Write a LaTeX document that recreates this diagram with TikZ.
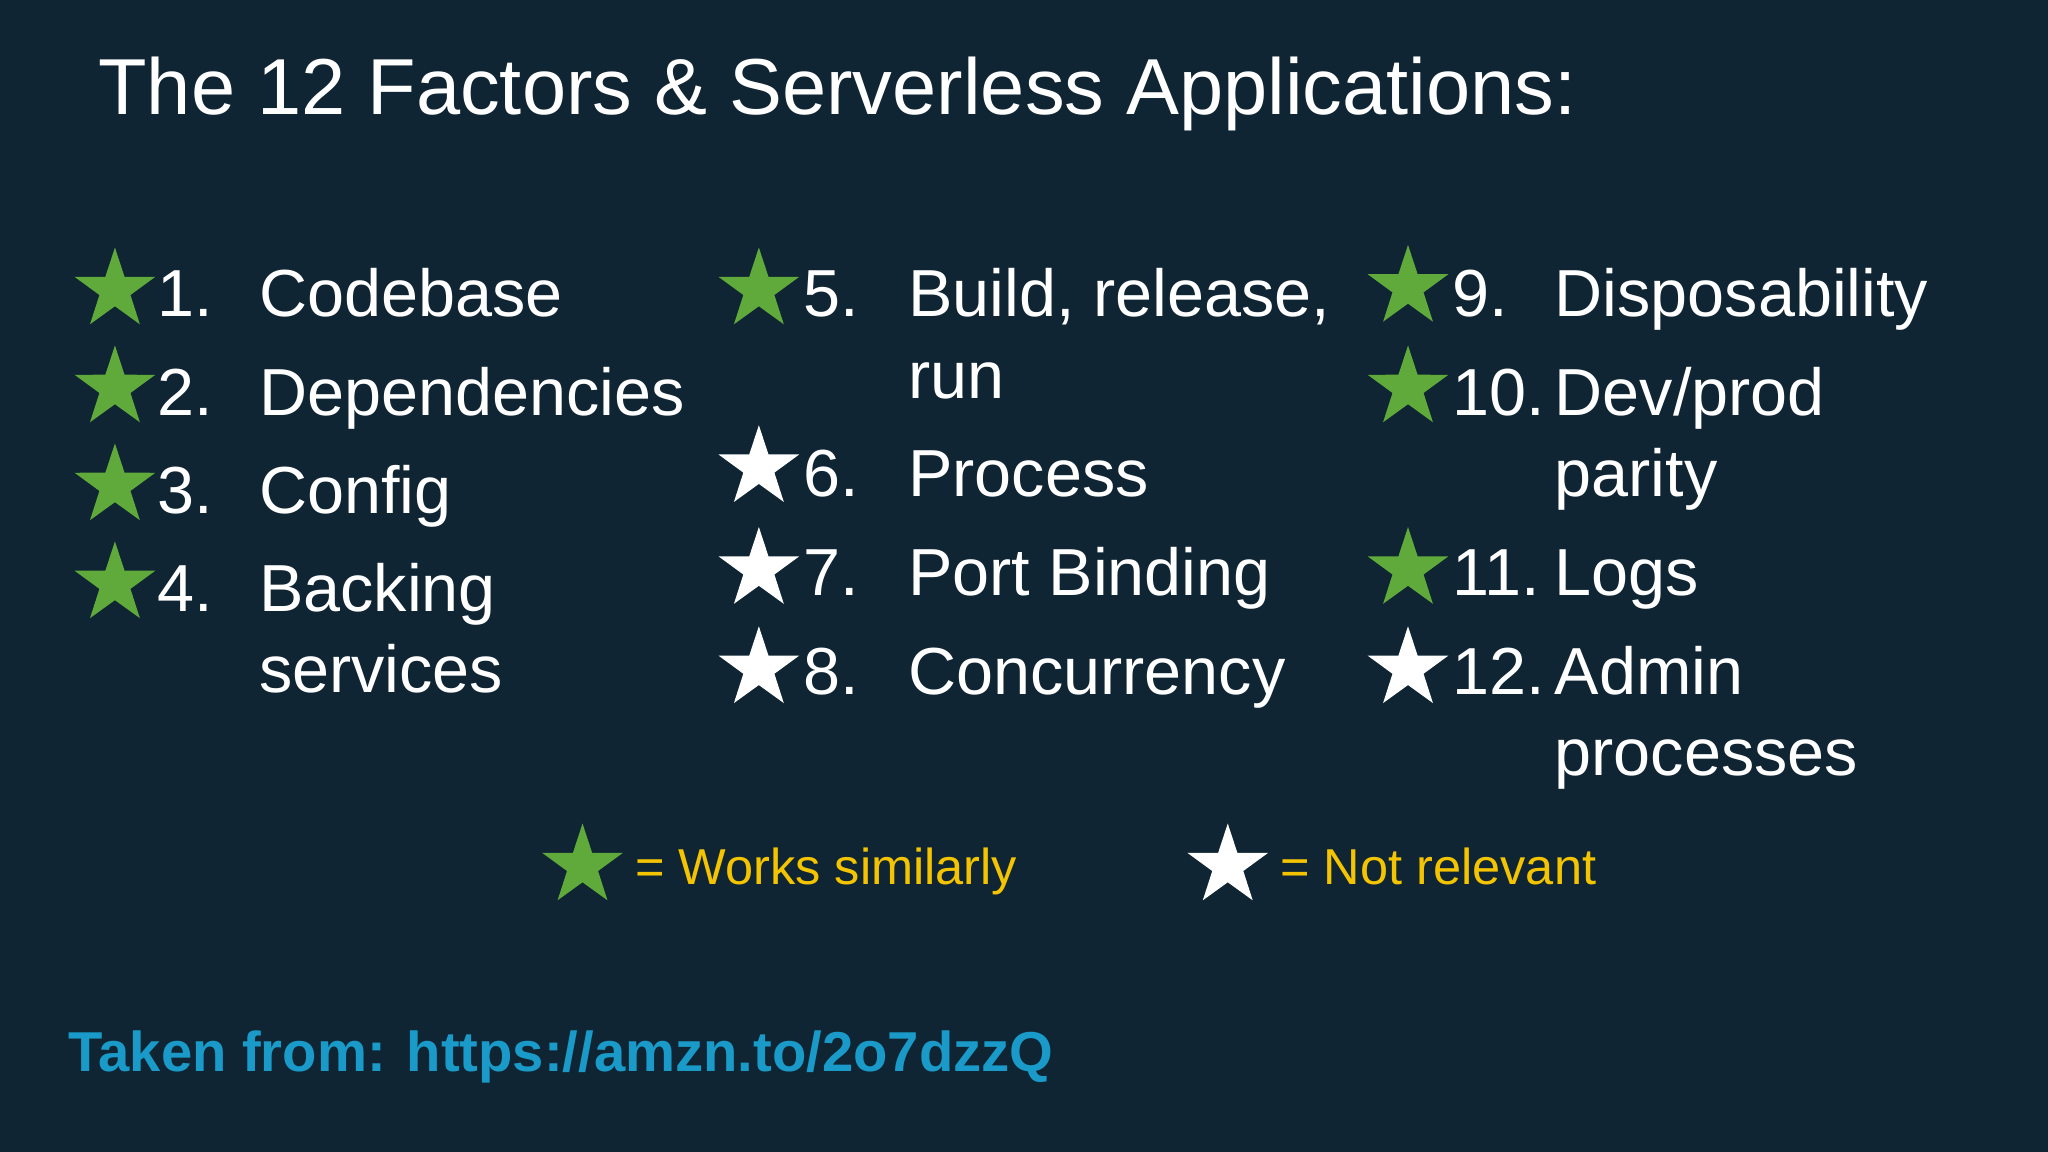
\documentclass[tikz,border=0pt]{standalone}
\usepackage{fontspec}
\setmainfont{Liberation Sans}
\usetikzlibrary{shapes.geometric}
\definecolor{bg}{HTML}{0F2533}
\definecolor{sgreen}{HTML}{5FAA3A}
\definecolor{syellow}{HTML}{F5C400}
\definecolor{sblue}{HTML}{1A9AC8}
\tikzset{
 gstar/.style={star,star points=5,star point ratio=2.6,minimum size=1.3cm,inner sep=0pt,fill=sgreen,draw=none},
 wstar/.style={gstar,fill=white},
 item/.style={anchor=base west,text=white,font=\fontsize{29}{31}\selectfont,inner sep=0pt},
 leg/.style={anchor=base west,text=syellow,font=\fontsize{22}{24}\selectfont,inner sep=0pt}
}
\begin{document}
\begin{tikzpicture}[x=0.02cm,y=-0.02cm]
\fill[bg] (0,0) rectangle (1568,882);
\useasboundingbox (0,0) rectangle (1568,882);
\node[anchor=base west,text=white,font=\fontsize{34.6}{36}\selectfont,inner sep=0pt] (title) at (75,88) {The 12 Factors \& Serverless Applications:};
% column 1
\node[gstar] (s1) at (88,222) {};
\node[item] (n1) at (120,242) {1.}; \node[item] (t1) at (198,242) {Codebase};
\node[gstar] (s2) at (88,297) {};
\node[item] (n2) at (120,318) {2.}; \node[item] (t2) at (198,318) {Dependencies};
\node[gstar] (s3) at (88,372) {};
\node[item] (n3) at (120,393) {3.}; \node[item] (t3) at (198,393) {Config};
\node[gstar] (s4) at (88,447) {};
\node[item] (n4) at (120,468) {4.}; \node[item] (t4) at (198,468) {Backing};
\node[item] (t4b) at (198,530) {services};
% column 2
\node[gstar] (s5) at (581,222) {};
\node[item] (n5) at (615,242) {5.}; \node[item] (t5) at (695,242) {Build, release,};
\node[item] (t5b) at (695,305) {run};
\node[wstar] (s6) at (581,358) {};
\node[item] (n6) at (615,380) {6.}; \node[item] (t6) at (695,380) {Process};
\node[wstar] (s7) at (581,436) {};
\node[item] (n7) at (615,456) {7.}; \node[item] (t7) at (695,456) {Port Binding};
\node[wstar] (s8) at (581,512) {};
\node[item] (n8) at (615,532) {8.}; \node[item] (t8) at (695,532) {Concurrency};
% column 3
\node[gstar] (s9) at (1078,220) {};
\node[item] (n9) at (1112,242) {9.}; \node[item] (t9) at (1190,242) {Disposability};
\node[gstar] (s10) at (1078,297) {};
\node[item] (n10) at (1112,318) {10.}; \node[item] (t10) at (1190,318) {Dev/prod};
\node[item] (t10b) at (1190,380) {parity};
\node[gstar] (s11) at (1078,436) {};
\node[item] (n11) at (1112,456) {11.}; \node[item] (t11) at (1190,456) {Logs};
\node[wstar] (s12) at (1078,512) {};
\node[item] (n12) at (1112,532) {12.}; \node[item] (t12) at (1190,532) {Admin};
\node[item] (t12b) at (1190,594) {processes};
% legend
\node[gstar] (lg) at (446,663) {};
\node[leg] (lgt) at (486,677) {= Works similarly};
\node[wstar] (lw) at (940,663) {};
\node[leg] (lwt) at (980,677) {= Not relevant};
% footer
\node[anchor=base west,text=sblue,font=\bfseries\fontsize{24.5}{26}\selectfont,inner sep=0pt] (foot) at (52,820) {Taken from: https://amzn.to/2o7dzzQ};
\end{tikzpicture}
\end{document}
